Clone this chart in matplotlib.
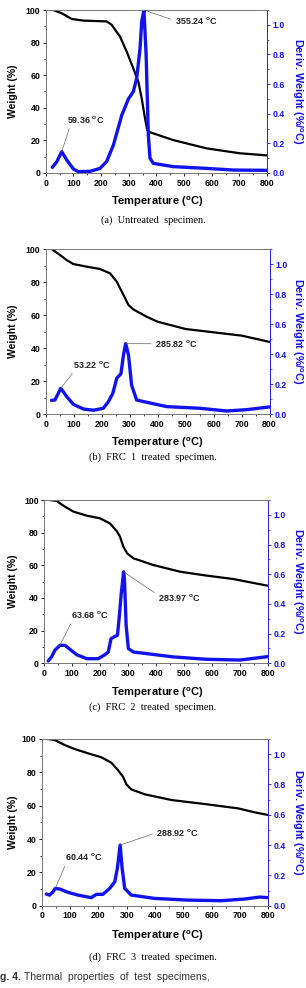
import matplotlib
matplotlib.use('Agg')
import matplotlib.pyplot as plt
from matplotlib.ticker import MultipleLocator

plt.rcParams['font.family'] = ['Liberation Sans', 'DejaVu Sans']
plt.rcParams['mathtext.fontset'] = 'custom'
plt.rcParams['mathtext.bf'] = 'Liberation Sans:bold'

# ---- data ----
# (a) untreated
temp_a_w = [27, 58, 94, 136, 220, 238, 269, 293, 317, 335, 347, 359, 367, 377, 461, 582, 702, 800]
weight_a = [100, 98, 94.5, 93.5, 93, 91, 83.6, 74.4, 64, 56, 45.8, 33.5, 26.4, 25, 20.2, 15.1, 12.1, 10.8]
temp_a_d = [24, 40, 58, 76, 100, 118, 160, 196, 220, 245, 275, 299, 317, 329, 341, 347, 355, 363, 371, 377, 389, 461, 582, 678, 800]
deriv_a = [0.038, 0.076, 0.144, 0.088, 0.027, 0.009, 0.011, 0.031, 0.076, 0.19, 0.39, 0.50, 0.55, 0.64, 0.84, 1.02, 1.10, 0.80, 0.256, 0.10, 0.065, 0.043, 0.031, 0.020, 0.018]

# (b) FRC 1
temp_b_w = [21, 51, 75, 99, 147, 194, 230, 254, 278, 296, 313, 361, 400, 500, 600, 700, 800]
weight_b = [100, 96.4, 93.3, 90.9, 89.3, 87.9, 85.3, 80.2, 72.2, 66.1, 63.5, 59, 56, 51.6, 49.6, 47.6, 43.8]
temp_b_d = [21, 33, 54, 75, 99, 135, 170, 206, 224, 240, 254, 269, 278, 286, 296, 307, 325, 361, 433, 552, 647, 719, 800]
deriv_b = [0.093, 0.095, 0.173, 0.118, 0.066, 0.035, 0.027, 0.04, 0.084, 0.14, 0.24, 0.27, 0.395, 0.47, 0.395, 0.195, 0.095, 0.08, 0.051, 0.04, 0.022, 0.031, 0.049]

# (c) FRC 2
temp_c_w = [20, 44, 74, 104, 152, 199, 235, 259, 271, 283, 297, 319, 390, 486, 581, 677, 800]
weight_c = [100, 99.4, 95.9, 92.9, 90.4, 88.8, 85.7, 81, 77.6, 71.4, 67.3, 64.3, 60.2, 56.1, 53.7, 51.6, 47.5]
temp_c_d = [14, 26, 38, 56, 74, 92, 116, 152, 193, 217, 229, 239, 250, 262, 269, 275, 284, 287, 293, 301, 319, 367, 462, 581, 701, 800]
deriv_c = [0.016, 0.043, 0.088, 0.121, 0.121, 0.094, 0.058, 0.031, 0.031, 0.058, 0.076, 0.166, 0.178, 0.189, 0.324, 0.459, 0.616, 0.571, 0.256, 0.099, 0.076, 0.065, 0.043, 0.027, 0.022, 0.045]

# (d) FRC 3
temp_d_w = [22, 46, 81, 116, 164, 211, 246, 269, 287, 299, 316, 364, 458, 575, 693, 752, 800]
weight_d = [100, 99.4, 96.4, 94, 91.4, 89, 85.8, 81.4, 77.4, 72.8, 69.8, 66.8, 63.4, 61, 58.4, 56, 54.4]
temp_d_d = [16, 28, 40, 48, 64, 93, 128, 175, 193, 216, 240, 258, 267, 277, 284, 293, 316, 399, 516, 634, 716, 769, 800]
deriv_d = [0.077, 0.07, 0.092, 0.114, 0.11, 0.088, 0.07, 0.053, 0.075, 0.075, 0.114, 0.158, 0.246, 0.40, 0.246, 0.114, 0.07, 0.048, 0.037, 0.033, 0.044, 0.057, 0.053]

captions = ['(a)  Untreated  specimen.', '(b)  FRC  1  treated  specimen.',
            '(c)  FRC  2  treated  specimen.', '(d)  FRC  3  treated  specimen.']

# peak labels: (peak T, peak deriv, label, text T, text weight%, relpos)
peaks_a = [(355, 1.10, '355.24', 467, 93.5, (0, 0.5)), (58, 0.144, '59.36', 76, 33, (0.1, 0))]
peaks_b = [(286, 0.47, '285.82', 391, 42.7, (0, 0.5)), (54, 0.173, '53.22', 99, 30.2, (0.05, 0))]
peaks_c = [(284, 0.616, '283.97', 408, 40.4, (0, 0.7)), (56, 0.121, '63.68', 95, 30, (0.05, 0))]
peaks_d = [(277, 0.40, '288.92', 405, 43.8, (0, 0.5)), (48, 0.114, '60.44', 81, 29.4, (0.05, 0))]

W, H = 306, 988
# axes boxes in pixels: left, right, top, bottom ; then xlabel y, caption y
boxes = [(45.7, 267, 10, 173, 202, 220),
         (45.7, 269.5, 249, 414.3, 443, 457),
         (44.3, 267.7, 500, 663.3, 692.7, 706.7),
         (41.7, 268.3, 739, 905.7, 936, 957)]

series = [(temp_a_w, weight_a, temp_a_d, deriv_a, peaks_a),
          (temp_b_w, weight_b, temp_b_d, deriv_b, peaks_b),
          (temp_c_w, weight_c, temp_c_d, deriv_c, peaks_c),
          (temp_d_w, weight_d, temp_d_d, deriv_d, peaks_d)]

fig = plt.figure(figsize=(W / 100, H / 100), dpi=100)
blue = '#1212ee'

for i in range(4):
    l, r, t, b, xl_y, cap_y = boxes[i]
    tw, w, td, d, peaks = series[i]
    ax = fig.add_axes([l / W, 1 - b / H, (r - l) / W, (b - t) / H])
    ax2 = ax.twinx()

    ax.plot(tw, w, color='black', lw=1.6, solid_capstyle='round', solid_joinstyle='round')
    ax2.plot(td, d, color=blue, lw=2.4, solid_capstyle='round', solid_joinstyle='round')

    ax.set_xlim(0, 800)
    ax.set_ylim(0, 100)
    ax2.set_ylim(0, 1.1)
    ax.xaxis.set_major_locator(MultipleLocator(100))
    ax.xaxis.set_minor_locator(MultipleLocator(50))
    ax.yaxis.set_major_locator(MultipleLocator(20))
    ax.yaxis.set_minor_locator(MultipleLocator(10))
    ax2.yaxis.set_minor_locator(MultipleLocator(0.1))

    for a in (ax, ax2):
        a.tick_params(which='major', direction='out', length=2.5, width=0.6, labelsize=6.3, pad=1.5)
        a.tick_params(which='minor', direction='out', length=1.3, width=0.5)
        for s in a.spines.values():
            s.set_linewidth(0.6)
            s.set_color('#777777')
    ax2.spines['right'].set_color(blue)
    ax2.tick_params(axis='y', which='both', colors=blue)
    for lab in ax.get_xticklabels() + ax.get_yticklabels():
        lab.set_fontweight('bold')
    ax2.set_yticks([0, 0.2, 0.4, 0.6, 0.8, 1.0])
    ax2.set_yticklabels(['0.0', '0.2', '0.4', '0.6', '0.8', '1.0'], fontweight='bold', fontsize=6.3)

    ax.set_xlabel(r'Temperature ($^{\mathbf{o}}$C)', fontsize=8, fontweight='bold')
    ax.xaxis.set_label_coords((W / 2 + 4 - l) / (r - l), (b - xl_y) / (b - t))
    ax.xaxis.label.set_verticalalignment('center')
    ax.set_ylabel('Weight (%)', fontsize=7.5, fontweight='bold')
    ax.yaxis.set_label_coords((12.7 - l) / (r - l), 0.5)
    ax.yaxis.label.set_verticalalignment('center')
    ax2.set_ylabel(r'Deriv. Weight (%/$^{\mathbf{o}}$C)', fontsize=7.8, fontweight='bold',
                   color=blue, rotation=270)
    ax2.yaxis.set_label_coords((297.5 - l) / (r - l), 0.5)
    ax2.yaxis.label.set_verticalalignment('center')

    for pt, pv, txt, tt, tp, rp in peaks:
        ax2.annotate(txt + r' $^{\mathbf{o}}$C', xy=(pt, pv), xytext=(tt, tp / 100 * 1.1),
                     fontsize=6.5, fontweight='bold', ha='left', va='center', color='#222222',
                     arrowprops=dict(arrowstyle='-', color='#555555', lw=0.5,
                                     linestyle=(0, (2, 1)), shrinkA=1, shrinkB=0, relpos=rp),
                     annotation_clip=False)

    fig.text(0.5, 1 - cap_y / H, captions[i], family='Liberation Serif', fontsize=7.5,
             ha='center', va='center')

fig.text(0.0, 1 - 977 / H, 'g. 4.', fontsize=7.5, fontweight='bold', ha='left', va='center', color='#333333')
fig.text(24 / W, 1 - 977 / H, 'Thermal  properties  of  test  specimens,', fontsize=7.5,
         ha='left', va='center', color='#333333')

fig.savefig('out.png', dpi=100)
